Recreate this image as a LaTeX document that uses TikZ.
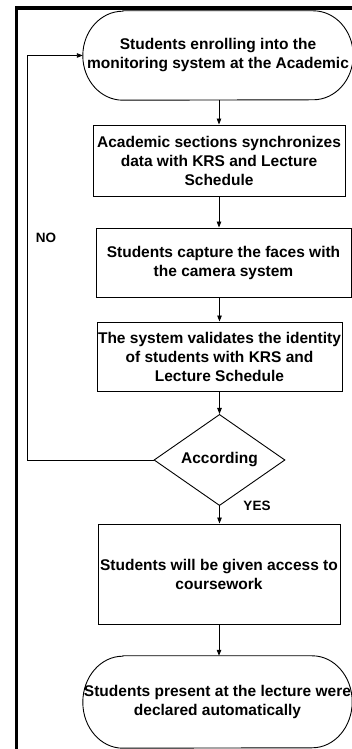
\documentclass[tikz,border=0pt]{standalone}
\usepackage{fontspec}
\setmainfont{Liberation Sans}
\usetikzlibrary{shapes.geometric,arrows.meta}
\newcommand\myoval[3]{%
  \draw[shapeline] ([xshift=#2]#1.north west) -- ([xshift=-#2]#1.north east)
    arc[start angle=90,end angle=-90,x radius=#2,y radius=#3]
    -- ([xshift=#2]#1.south west)
    arc[start angle=270,end angle=90,x radius=#2,y radius=#3] -- cycle;}
\begin{document}
\begin{tikzpicture}[x=1pt,y=1pt,
  shapeline/.style={line width=0.9pt},
  txt/.style={font=\fontsize{15.5}{19}\selectfont\bfseries, align=center, inner sep=0pt},
  lbl/.style={font=\fontsize{13.5}{16}\selectfont\bfseries, inner sep=0pt},
  box/.style={txt, draw, shapeline},
  arr/.style={line width=0.9pt, -{Triangle[length=6pt,width=4.5pt]}},
  ]
\useasboundingbox (0,0) rectangle (352,749);
\draw[line width=3.5pt] (16.5,-2) -- (16.5,741) -- (356,741);

\node[txt, minimum width=270, minimum height=89] (t1) at (218,693.5)
  {Students enrolling into the\\monitoring system at the Academic};
\myoval{t1}{40}{44.5}

\node[box, minimum width=252, minimum height=71] (b1) at (219,588.5)
  {Academic sections synchronizes\\data with KRS and Lecture\\Schedule};
\node[box, minimum width=255, minimum height=69] (b2) at (223.5,486.5)
  {Students capture the faces with\\the camera system};
\node[box, minimum width=245, minimum height=69] (b3) at (219.5,392.5)
  {The system validates the identity\\of students with KRS and\\Lecture Schedule};
\node[txt, diamond, draw, shapeline, minimum width=131, minimum height=76] (d) at (219.5,289)
  {According};
\node[box, minimum width=242, minimum height=100] (b4) at (219,175)
  {Students will be given access to\\coursework};
\node[txt, minimum width=269, minimum height=92] (t2) at (217.5,47)
  {Students present at the lecture were\\declared automatically};
\myoval{t2}{40}{46}

\node[lbl] (no) at (46,511) {NO};
\node[lbl] (yes) at (257,243) {YES};

\coordinate (lp) at (27,0);
\draw[arr] (t1.south -| b1.north) -- (b1.north);
\draw[arr] (b1.south) -- (b1.south |- b2.north);
\draw[arr] (b3.north |- b2.south) -- (b3.north);
\draw[arr] (b3.south -| d.north) -- (d.north);
\draw[arr] (d.south) -- (d.south |- b4.north);
\draw[arr] (b4.south) -- (b4.south |- t2.north);
\draw[arr] (d.west) -- (d.west -| lp) |- (t1.west);
\end{tikzpicture}
\end{document}
